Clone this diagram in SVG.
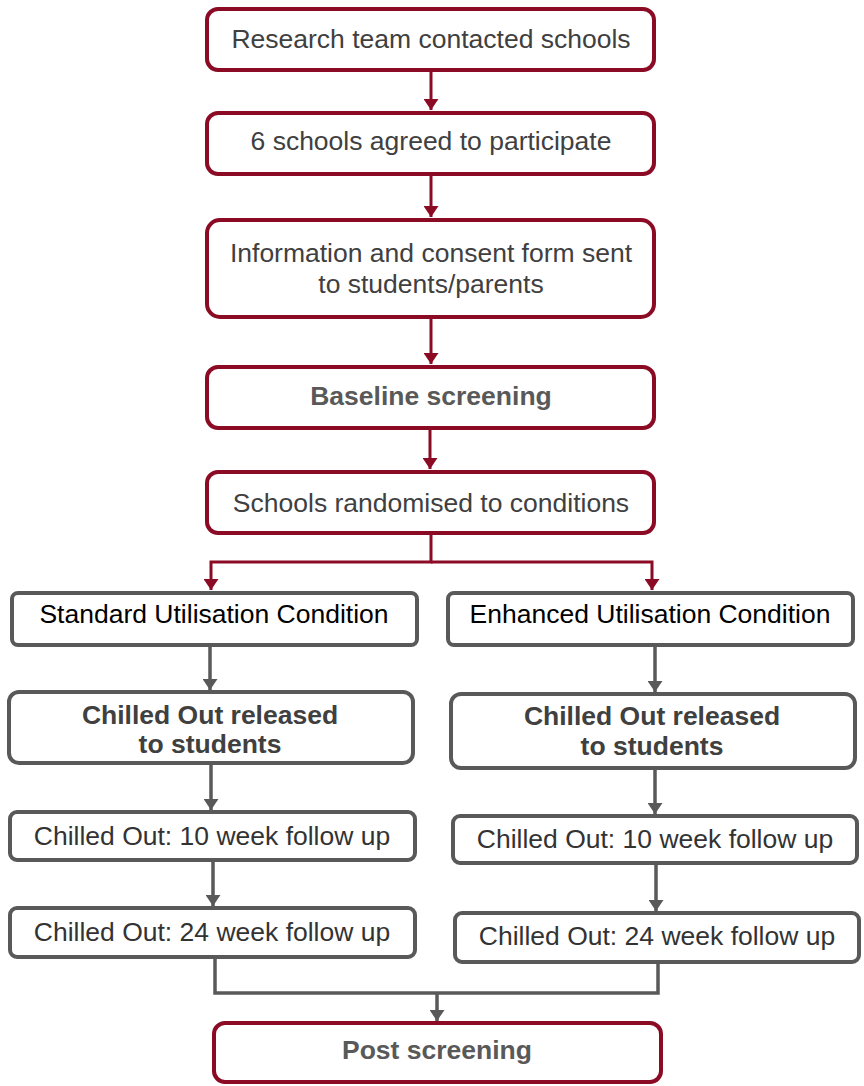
<svg xmlns="http://www.w3.org/2000/svg" width="864" height="1086" viewBox="0 0 864 1086">
<style>
.rbox{fill:#fff;stroke:#8B0A24;stroke-width:4}
.gbox{fill:#fff;stroke:#595959;stroke-width:4}
.t{font-family:"Liberation Sans",Arial,sans-serif;font-size:26.5px;text-anchor:middle;fill:#404040}
.b{font-weight:bold}
.k{fill:#000}
.rc{fill:none;stroke:#8B0A24;stroke-width:3}
.gc{fill:none;stroke:#595959;stroke-width:3.5}
</style>
<defs>
<marker id="ar" viewBox="0 0 11 15" refX="11" refY="7.5" markerWidth="11" markerHeight="15" markerUnits="userSpaceOnUse" orient="auto"><path d="M0,0 L11,7.5 L0,15 z" fill="#8B0A24"/></marker>
<marker id="ag" viewBox="0 0 11 15" refX="11" refY="7.5" markerWidth="11" markerHeight="15" markerUnits="userSpaceOnUse" orient="auto"><path d="M0,0 L11,7.5 L0,15 z" fill="#595959"/></marker>
</defs>
<g id="connectors">
<path class="rc" d="M431,70 V110" marker-end="url(#ar)"/>
<path class="rc" d="M431,174 V217" marker-end="url(#ar)"/>
<path class="rc" d="M431,317 V364" marker-end="url(#ar)"/>
<path class="rc" d="M430,428 V469" marker-end="url(#ar)"/>
<path class="rc" d="M431,533 V562 H211 V590" marker-end="url(#ar)"/>
<path class="rc" d="M431,562 H652 V590" marker-end="url(#ar)"/>
<path class="gc" d="M210,645 V690" marker-end="url(#ag)"/>
<path class="gc" d="M655,645 V692" marker-end="url(#ag)"/>
<path class="gc" d="M211,763 V810" marker-end="url(#ag)"/>
<path class="gc" d="M655,768 V814" marker-end="url(#ag)"/>
<path class="gc" d="M213,860 V906" marker-end="url(#ag)"/>
<path class="gc" d="M656,863 V911" marker-end="url(#ag)"/>
<path class="gc" d="M215,959 V993 H658 V964"/>
<path class="gc" d="M437,993 V1021" marker-end="url(#ag)"/>
</g>
<g id="n1"><rect class="rbox" x="207" y="9" width="447" height="61" rx="11"/><text class="t" x="431" y="48">Research team contacted schools</text></g>
<g id="n2"><rect class="rbox" x="207" y="113" width="447" height="61" rx="11"/><text class="t" x="431" y="150">6 schools agreed to participate</text></g>
<g id="n3"><rect class="rbox" x="207" y="220" width="447" height="97" rx="13"/><text class="t" x="431" y="262">Information and consent form sent</text><text class="t" x="431" y="293">to students/parents</text></g>
<g id="n4"><rect class="rbox" x="207" y="367" width="447" height="61" rx="11"/><text class="t b" x="431" y="405" style="fill:#595959">Baseline screening</text></g>
<g id="n5"><rect class="rbox" x="207" y="472" width="447" height="61" rx="11"/><text class="t" x="431" y="512">Schools randomised to conditions</text></g>
<g id="n6"><rect class="gbox" x="12" y="593" width="405" height="52" rx="6"/><text class="t k" x="214" y="623">Standard Utilisation Condition</text></g>
<g id="n7"><rect class="gbox" x="448" y="593" width="405" height="52" rx="6"/><text class="t k" x="650" y="623">Enhanced Utilisation Condition</text></g>
<g id="n8"><rect class="gbox" x="9" y="692" width="404" height="71" rx="10"/><text class="t b" x="210" y="724">Chilled Out released</text><text class="t b" x="210" y="753">to students</text></g>
<g id="n9"><rect class="gbox" x="451" y="694" width="404" height="74" rx="10"/><text class="t b" x="652" y="725">Chilled Out released</text><text class="t b" x="652" y="755">to students</text></g>
<g id="n10"><rect class="gbox" x="10" y="812" width="405" height="48" rx="7"/><text class="t" x="212" y="845" style="fill:#333">Chilled Out: 10 week follow up</text></g>
<g id="n11"><rect class="gbox" x="453" y="816" width="404" height="47" rx="7"/><text class="t" x="655" y="848" style="fill:#333">Chilled Out: 10 week follow up</text></g>
<g id="n12"><rect class="gbox" x="10" y="908" width="405" height="49" rx="7"/><text class="t" x="212" y="941" style="fill:#333">Chilled Out: 24 week follow up</text></g>
<g id="n13"><rect class="gbox" x="455" y="913" width="404" height="49" rx="7"/><text class="t" x="657" y="945" style="fill:#333">Chilled Out: 24 week follow up</text></g>
<g id="n14"><rect class="rbox" x="214" y="1023" width="447" height="59" rx="11"/><text class="t b" x="437" y="1059" style="fill:#595959">Post screening</text></g>
</svg>
